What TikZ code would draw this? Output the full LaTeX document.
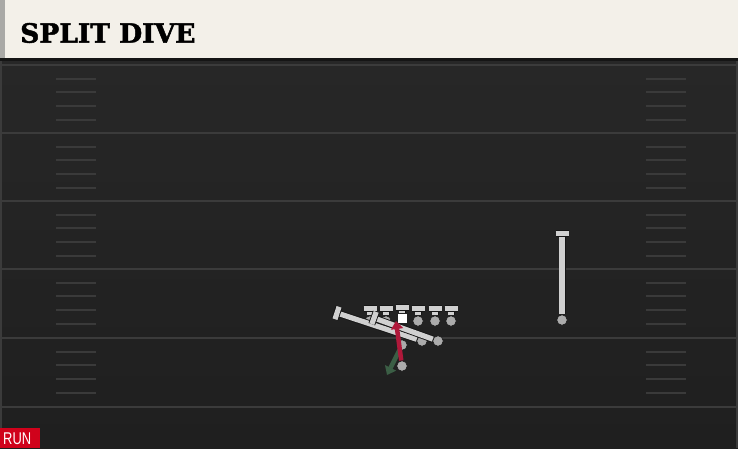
\documentclass[tikz,border=0pt]{standalone}
\usepackage{fontspec}
\usetikzlibrary{arrows.meta,calc}
\newfontfamily\titlefont[BoldFeatures={FakeBold=1.8}]{DejaVu Serif}
\newfontfamily\tagfont{Liberation Sans}
\definecolor{headerbg}{HTML}{F3F0E9}
\definecolor{headerstrip}{HTML}{A9A9A6}
\definecolor{fieldtop}{HTML}{272727}
\definecolor{fieldbot}{HTML}{1F1F1F}
\definecolor{yardcol}{HTML}{3B3B3B}
\definecolor{hashcol}{HTML}{3A3A3A}
\definecolor{routegrey}{HTML}{D0D0D0}
\definecolor{routeedge}{HTML}{151515}
\definecolor{playergrey}{HTML}{ABABAB}
\definecolor{runred}{HTML}{B0183A}
\definecolor{qbgreen}{HTML}{3B5E45}
\definecolor{tagred}{HTML}{D0021B}

\begin{document}
\begin{tikzpicture}[x=1pt,y=-1pt,
    yardline/.style={draw=yardcol,line width=2pt},
    hashmark/.style={draw=hashcol,line width=2pt},
    route/.style={draw=routeedge,line width=0.9pt,double=routegrey,double distance=5.2pt},
    player/.style={circle,fill=playergrey,draw=routeedge,line width=0.6pt,inner sep=0pt,minimum size=10.5pt},
    snapper/.style={rectangle,fill=white,inner sep=0pt,minimum size=9pt},
    runpath/.style={draw=runred,line width=4.5pt,-{Triangle[length=8pt,width=12pt]}},
    qbpath/.style={draw=qbgreen,line width=4.5pt,-{Triangle[length=8pt,width=12pt]}}]
  \useasboundingbox (0,0) rectangle (738,448);
  %% field
  \shade[top color=fieldtop,bottom color=fieldbot] (0,60) rectangle (738,448);
  \draw[yardcol,line width=2pt] (1,60) -- (1,448) (737,60) -- (737,448);
  \foreach \y in {65,133,201,269,338,407}
    \draw[yardline] (0,\y) -- (738,\y);
  \foreach \y in {65,133,201,269,338}
    \foreach \d in {14,27,41,55}{
      \draw[hashmark] (56,\y+\d) -- (96,\y+\d);
      \draw[hashmark] (646,\y+\d) -- (686,\y+\d);
    }
  %% header
  \fill[routeedge] (0,57) rectangle (738,61);
  \fill[headerbg] (5,0) rectangle (738,58);
  \fill[headerstrip] (0,0) rectangle (5,58);
  \node[anchor=west,inner sep=0pt] (title) at (20,33)
    {\titlefont\bfseries\fontsize{26.5}{28}\selectfont SPLIT DIVE};
  %% line
  \foreach \x/\p in {370/lt,386/lg,418/rg,435/rt,451/te}{
    \node[player] (\p) at (\x,321) {};
    \coordinate (\p-blk) at (\x,308.5);
    \draw[route] (\p) -- (\p-blk);
    \draw[route] ([xshift=-6.5pt]\p-blk) -- ([xshift=6.5pt]\p-blk);
  }
  \node[snapper] (c) at (402,318) {};
  \coordinate (c-blk) at (402,307.5);
  \draw[route] (c) -- (c-blk);
  \draw[route] ([xshift=-6.5pt]c-blk) -- ([xshift=6.5pt]c-blk);
  %% backs crossing the formation
  \node[player] (hb) at (422,341) {};
  \coordinate (hb-blk) at (337,313);
  \draw[route] (hb) -- (hb-blk);
  \draw[route] ($(hb-blk)!6.5pt!90:(hb)$) -- ($(hb-blk)!6.5pt!-90:(hb)$);
  \node[player] (fb) at (438,341) {};
  \coordinate (fb-blk) at (374,318);
  \draw[route] (fb) -- (fb-blk);
  \draw[route] ($(fb-blk)!6.5pt!90:(fb)$) -- ($(fb-blk)!6.5pt!-90:(fb)$);
  %% receiver
  \node[player] (wr) at (562,320) {};
  \coordinate (wr-blk) at (562,233.5);
  \draw[route] (wr) -- (wr-blk);
  \draw[route] ([xshift=-6.5pt]wr-blk) -- ([xshift=6.5pt]wr-blk);
  %% qb and back
  \node[player] (qb) at (402,345) {};
  \node[player] (rb) at (402,366) {};
  \coordinate (run-end) at (396,321);
  \coordinate (qb-end) at (387,375);
  \draw[qbpath] (qb) -- (qb-end);
  \draw[runpath] (rb) -- (run-end);
  %% tag
  \fill[tagred] (0,428) rectangle (40,448);
  \node[anchor=west,inner sep=0pt,text=white] (tag) at (3,438.5)
    {\scalebox{0.76}[1]{\tagfont\fontsize{17}{17}\selectfont RUN}};
\end{tikzpicture}
\end{document}
